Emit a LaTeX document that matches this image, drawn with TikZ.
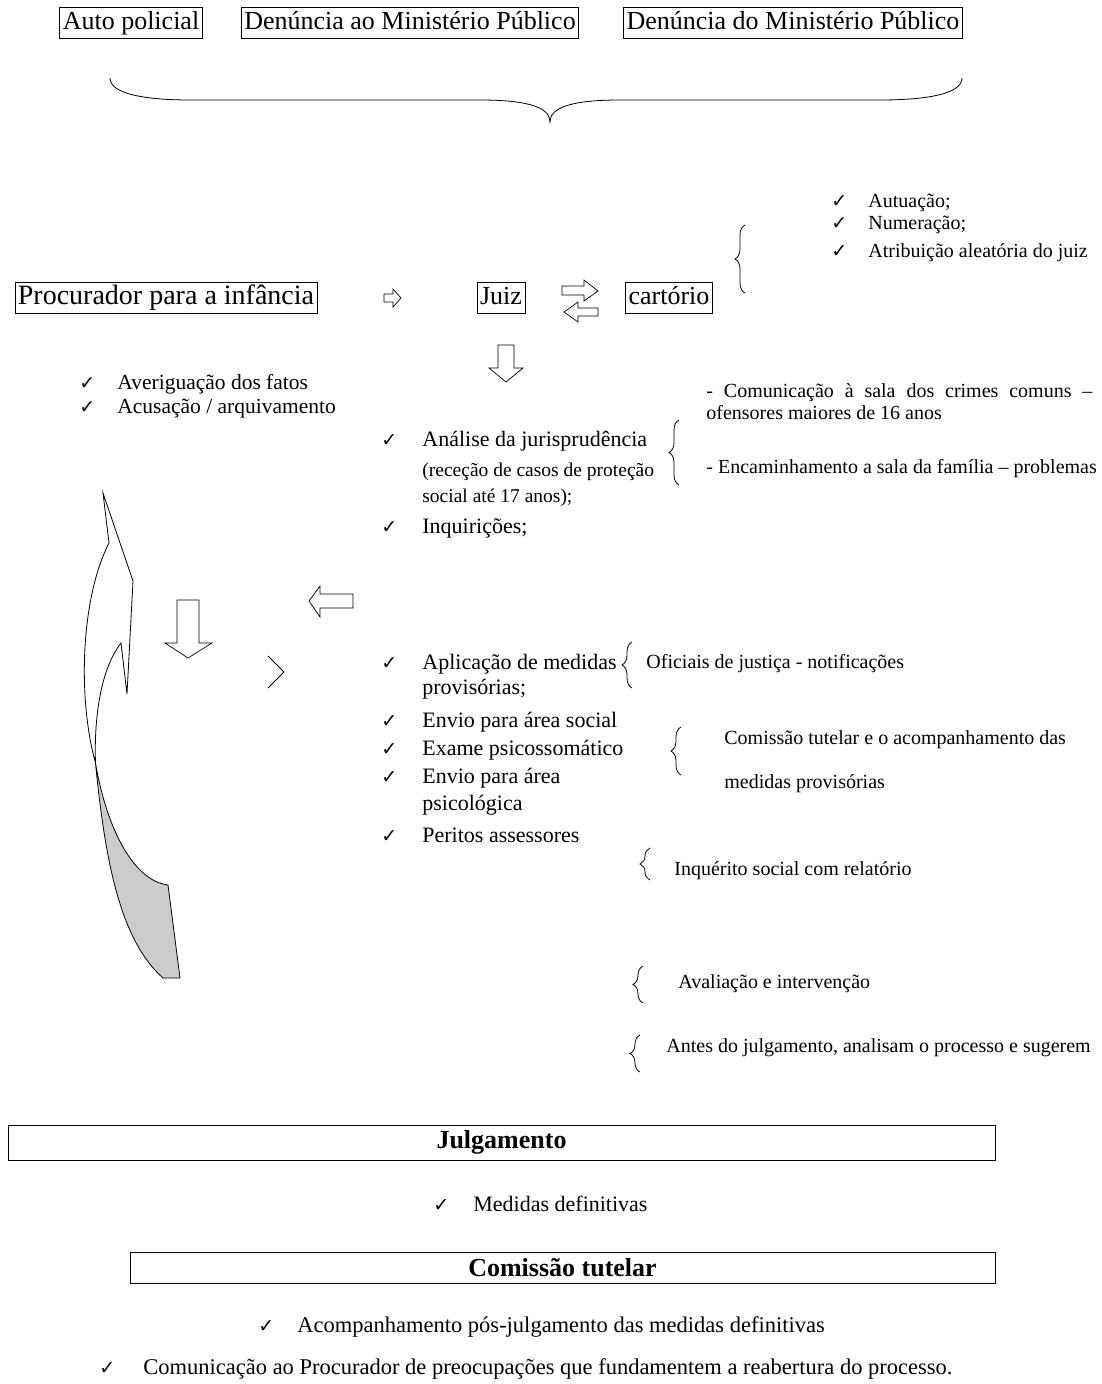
\documentclass[tikz,border=0pt]{standalone}
\usepackage{fontspec}
\setmainfont{Liberation Serif}
\newfontfamily\symfont{DejaVu Sans}
\usetikzlibrary{decorations.pathreplacing}
\newcommand{\chk}{✓}

\begin{document}
\begin{tikzpicture}[x=1pt,y=-1pt,line width=0.8pt]
      \tikzstyle{frame}=[draw,inner sep=3pt,text height=19pt,text depth=6pt,font=\fontsize{26}{30}\selectfont]
      \tikzstyle{item}=[anchor=base west,inner sep=0pt,font=\fontsize{22}{26}\selectfont]
      \tikzstyle{sub}=[anchor=base west,inner sep=0pt,font=\fontsize{19.5}{23}\selectfont]
      \tikzstyle{note}=[anchor=base west,inner sep=0pt,font=\fontsize{20}{24}\selectfont]
      \tikzstyle{tick}=[anchor=base west,inner sep=0pt,font=\symfont\fontsize{19}{21}\selectfont]
      \tikzstyle{band}=[draw,inner sep=0pt,font=\bfseries\fontsize{26}{30}\selectfont]
      \tikzstyle{curly}=[decorate,decoration={brace,amplitude=10pt}]
      \tikzstyle{blockarrow}=[draw,line width=0.7pt,line join=miter]
      \useasboundingbox (0,0) rectangle (1102,1384);
      % entradas
      \node[frame] (auto) at (131,23) {Auto policial};
      \node[frame] (denAo) at (410,23) {Denúncia ao Ministério Público};
      \node[frame] (denDo) at (793,23) {Denúncia do Ministério Público};
      \draw (110,78) .. controls (110,95) and (150,100) .. (190,100) -- (480,100)
            .. controls (530,100) and (550,108) .. (550,122)
            .. controls (550,108) and (570,100) .. (620,100) -- (880,100)
            .. controls (922,100) and (962,95) .. (962,78);
      % procurador, juiz, cartorio
      \node[frame,font=\fontsize{28}{32}\selectfont] (procurador) at (166,298) {Procurador para a infância};
      \node[frame] (juiz) at (501,298) {Juiz};
      \node[frame] (cartorio) at (669,298) {cartório};
      \draw[blockarrow] (384,294) -- (393,294) -- (393,289) -- (401,298) -- (393,307) -- (393,302) -- (384,302) -- cycle;
      \draw[blockarrow] (562,286) -- (584,286) -- (584,280) -- (598,291) -- (584,301) -- (584,295) -- (562,295) -- cycle;
      \draw[blockarrow] (598,308) -- (578,308) -- (578,302) -- (564,312) -- (578,322) -- (578,316) -- (598,316) -- cycle;
      \draw[blockarrow] (498,345) -- (514,345) -- (514,368) -- (523,368) -- (506,382) -- (489,368) -- (498,368) -- cycle;
      \draw[curly] (745,293) -- (745,225);
      \node[tick] (t1) at (831,207) {\chk};
      \node[note] (autuacao) at (868,207) {Autuação;};
      \node[tick] (t2) at (831,229) {\chk};
      \node[note] (numeracao) at (868,229) {Numeração;};
      \node[tick] (t3) at (831,257) {\chk};
      \node[note] (atribuicao) at (868,257) {Atribuição aleatória do juiz};
      % procurador
      \node[tick] (t4) at (79,389) {\chk};
      \node[item,font=\fontsize{21.5}{25}\selectfont] (averiguacao) at (117,389) {Averiguação dos fatos};
      \node[tick] (t5) at (79,413) {\chk};
      \node[item,font=\fontsize{21.5}{25}\selectfont] (acusacao) at (117,413) {Acusação / arquivamento};
      % juiz
      \node[tick] (t6) at (381,446) {\chk};
      \node[item] (analise) at (422,446) {Análise da jurisprudência};
      \node[sub] (rececao) at (422,476) {(receção de casos de proteção};
      \node[sub] (social) at (422,502) {social até 17 anos);};
      \node[tick] (t7) at (381,533) {\chk};
      \node[item] (inquiricoes) at (422,533) {Inquirições;};
      \draw[curly] (679,485) -- (679,420);
      \node[note] (comun1) at (706,397) {\makebox[386pt][s]{- Comunicação à sala dos crimes comuns –}};
      \node[note] (comun2) at (706,419) {ofensores maiores de 16 anos};
      \node[note] (encam) at (706,473) {- Encaminhamento a sala da família – problemas};
      % seta curva
      \fill[black!20] (95.5,763) .. controls (105,820) and (130,880) .. (168,885) -- (180,978) -- (163,978)
            .. controls (120,940) and (105,860) .. (95.5,763) -- cycle;
      \draw[line join=miter] (103,493) -- (133,581) -- (127,694) -- (121,643)
            .. controls (100,670) and (94,720) .. (95.5,763)
            .. controls (105,820) and (130,880) .. (168,885) -- (180,978) -- (163,978)
            .. controls (120,940) and (105,860) .. (95.5,763)
            .. controls (78,700) and (80,600) .. (109,543) -- cycle;
      \draw[blockarrow] (353,594) -- (320,594) -- (320,586) -- (309,601) -- (320,617) -- (320,608) -- (353,608) -- cycle;
      \draw[blockarrow] (177,600) -- (199,600) -- (199,643) -- (212,643) -- (188,658) -- (165,643) -- (177,643) -- cycle;
      \draw (268,656) -- (284,672) -- (268,688);
      % medidas
      \node[tick] (t8) at (381,669) {\chk};
      \node[item] (aplicacao) at (422,669) {Aplicação de medidas};
      \node[item] (provisorias) at (422,694) {provisórias;};
      \node[tick] (t9) at (381,727) {\chk};
      \node[item] (envioSocial) at (422,727) {Envio para área social};
      \node[tick] (t10) at (381,755) {\chk};
      \node[item] (exame) at (422,755) {Exame psicossomático};
      \node[tick] (t11) at (381,783) {\chk};
      \node[item] (envioPsi) at (422,783) {Envio para área};
      \node[item] (psicologica) at (422,810) {psicológica};
      \node[tick] (t12) at (381,842) {\chk};
      \node[item] (peritos) at (422,842) {Peritos assessores};
      \draw[curly] (632,688) -- (632,642);
      \node[note] (oficiais) at (646,668) {Oficiais de justiça - notificações};
      \draw[curly] (681,775) -- (681,727);
      \node[note] (comissaoAc) at (724,744) {Comissão tutelar e o acompanhamento das};
      \node[note] (medProv) at (724,788) {medidas provisórias};
      \draw[curly] (650,880) -- (650,848);
      \node[note] (inquerito) at (674,875) {Inquérito social com relatório};
      \draw[curly] (643,1003) -- (643,966);
      \node[note] (avaliacao) at (678,988) {Avaliação e intervenção};
      \draw[curly] (640,1072) -- (640,1035);
      \node[note] (antes) at (666,1052) {Antes do julgamento, analisam o processo e sugerem};
      % julgamento
      \node[band,minimum width=987pt,minimum height=35pt] (julgamento) at (501.5,1142.5) {Julgamento};
      \node[tick] (t13) at (433,1211) {\chk};
      \node[item] (definitivas) at (473,1211) {Medidas definitivas};
      \node[band,minimum width=865pt,minimum height=31pt] (comissao) at (562.5,1267.5) {Comissão tutelar};
      \node[tick] (t14) at (258,1332) {\chk};
      \node[item,font=\fontsize{22.5}{26}\selectfont] (acompanhamento) at (297,1332) {Acompanhamento pós-julgamento das medidas definitivas};
      \node[tick] (t15) at (99,1374) {\chk};
      \node[item,font=\fontsize{22.5}{26}\selectfont] (comunicacao) at (143,1374) {Comunicação ao Procurador de preocupações que fundamentem a reabertura do processo.};
\end{tikzpicture}
\end{document}
